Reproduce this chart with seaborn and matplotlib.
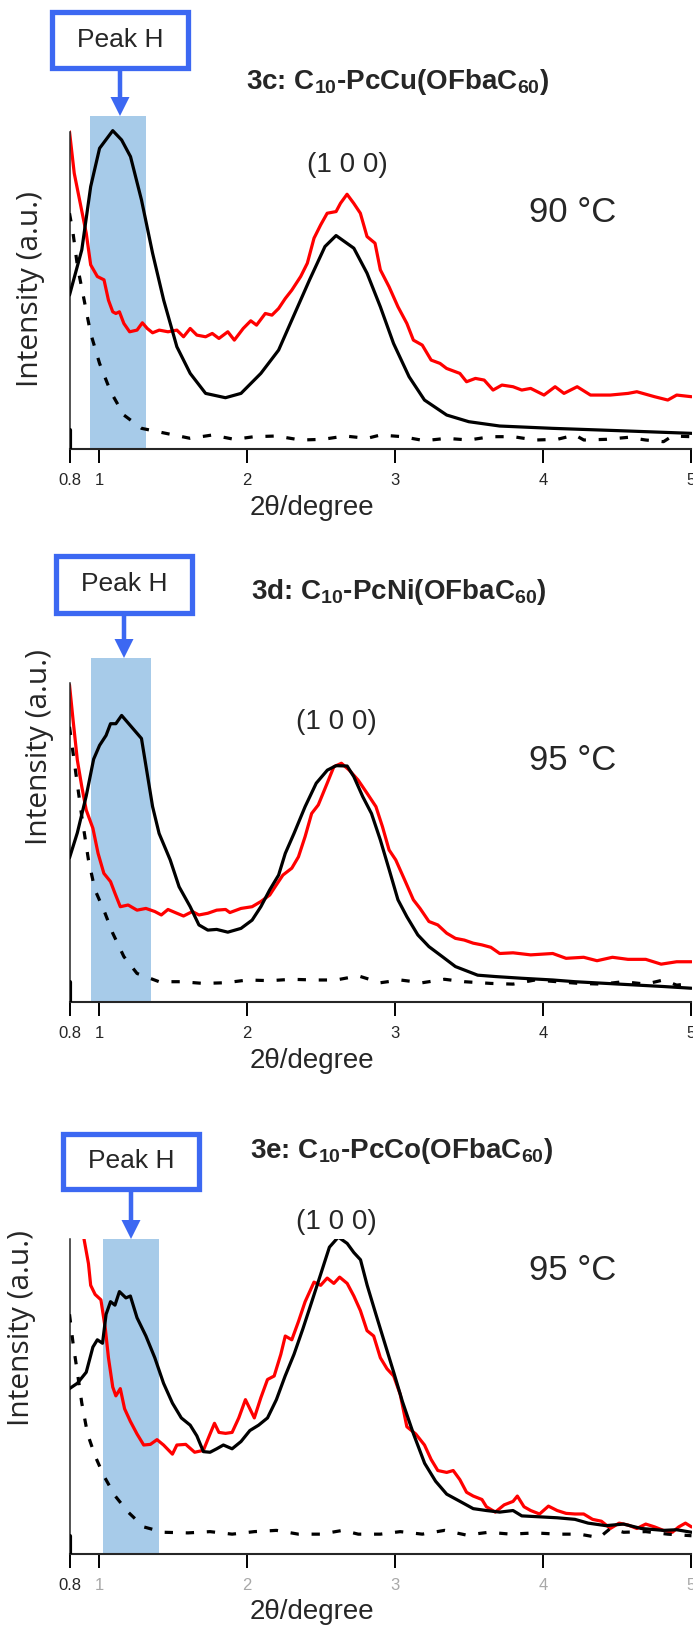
import matplotlib
matplotlib.use("Agg")
import matplotlib.pyplot as plt
from matplotlib.patches import Rectangle, FancyArrow
import seaborn as sns

# ---------------- data: 2θ (degree) vs. intensity (a.u.) ----------------
# 3c: C10-PcCu(OFbaC60), 90 °C
x_3c_red = [0.80, 0.832, 0.868, 0.913, 0.943, 0.988, 1.033, 1.063, 1.092, 1.113, 1.137, 1.167,
            1.206, 1.256, 1.292, 1.325, 1.361, 1.406, 1.465, 1.525, 1.570, 1.615, 1.660, 1.719,
            1.764, 1.809, 1.869, 1.913, 1.973, 2.024, 2.063, 2.122, 2.167, 2.212, 2.257, 2.301,
            2.361, 2.406, 2.451, 2.496, 2.540, 2.600, 2.630, 2.674, 2.719, 2.764, 2.809, 2.863,
            2.899, 2.958, 3.018, 3.078, 3.122, 3.182, 3.242, 3.302, 3.346, 3.436, 3.481, 3.541,
            3.600, 3.660, 3.720, 3.795, 3.854, 3.914, 4.004, 4.079, 4.139, 4.228, 4.318, 4.452,
            4.572, 4.631, 4.751, 4.840, 4.900, 5.0]
i_3c_red = [95.3, 82.8, 74.8, 64.8, 55.3, 51.8, 50.8, 44.7, 41.2, 40.7, 41.2, 37.7,
            35.2, 35.7, 37.9, 36.2, 34.9, 35.7, 35.2, 35.7, 33.7, 36.2, 34.2, 33.7,
            34.7, 33.2, 35.2, 32.7, 36.2, 38.5, 37.2, 40.7, 40.2, 42.2, 45.2, 47.7,
            51.8, 55.8, 63.3, 67.3, 70.8, 71.3, 73.8, 76.5, 73.8, 70.8, 63.8, 61.8,
            53.8, 48.7, 42.7, 37.7, 32.7, 31.2, 26.7, 25.7, 24.2, 22.7, 20.2, 21.2,
            20.7, 17.7, 19.2, 18.7, 17.7, 18.2, 16.2, 18.7, 16.7, 18.7, 16.2, 16.2,
            16.7, 17.2, 15.7, 14.7, 16.2, 15.7]
x_3c_black = [0.80, 0.883, 0.943, 1.003, 1.092, 1.152, 1.212, 1.286, 1.361, 1.436, 1.525, 1.615,
              1.719, 1.853, 1.958, 2.092, 2.212, 2.301, 2.421, 2.525, 2.600, 2.720, 2.809, 2.899,
              2.988, 3.093, 3.197, 3.347, 3.496, 3.705, 4.063, 4.511, 5.0]
i_3c_black = [46.2, 59.8, 78.8, 90.3, 95.6, 92.8, 87.8, 74.8, 58.8, 44.7, 30.7, 22.7,
              16.7, 15.4, 16.7, 22.7, 29.7, 38.7, 50.8, 60.8, 64.1, 60.3, 52.8, 42.7,
              31.7, 21.7, 14.7, 10.2, 8.2, 6.9, 6.2, 5.5, 4.7]
x_3c_dash = [0.80, 0.824, 0.854, 0.899, 0.943, 1.003, 1.078, 1.167, 1.287, 1.451, 1.615, 1.764,
             1.913, 2.047, 2.196, 2.361, 2.510, 2.660, 2.809, 2.899, 3.048, 3.197, 3.346, 3.496,
             3.645, 3.795, 3.944, 4.093, 4.213, 4.273, 4.422, 4.572, 4.691, 4.811, 4.870, 5.0]
i_3c_dash = [70.8, 64.8, 54.8, 44.7, 34.7, 25.7, 17.2, 10.2, 6.2, 4.7, 3.2, 4.2,
             2.9, 3.7, 3.9, 2.7, 2.9, 3.9, 3.2, 4.2, 3.7, 2.5, 3.2, 2.7,
             3.7, 3.7, 2.7, 2.9, 4.2, 2.7, 2.9, 3.5, 2.7, 2.2, 3.9, 3.7]

# 3d: C10-PcNi(OFbaC60), 95 °C
x_3d_red = [0.80, 0.824, 0.853, 0.883, 0.913, 0.958, 0.993, 1.032, 1.077, 1.107, 1.143, 1.196,
            1.256, 1.316, 1.376, 1.420, 1.465, 1.525, 1.570, 1.630, 1.674, 1.734, 1.794, 1.854,
            1.883, 1.958, 2.033, 2.092, 2.152, 2.196, 2.241, 2.301, 2.346, 2.391, 2.435, 2.480,
            2.540, 2.585, 2.636, 2.689, 2.749, 2.809, 2.869, 2.913, 2.958, 3.003, 3.063, 3.122,
            3.167, 3.227, 3.287, 3.347, 3.406, 3.466, 3.526, 3.585, 3.645, 3.705, 3.795, 3.914,
            4.063, 4.153, 4.272, 4.362, 4.466, 4.571, 4.691, 4.795, 4.900, 5.0]
i_3d_red = [92.2, 82.0, 70.3, 62.6, 55.8, 50.5, 43.2, 37.4, 35.0, 31.6, 27.7, 28.2,
            26.7, 27.2, 26.3, 25.3, 26.9, 25.8, 25.0, 26.3, 25.3, 25.8, 26.7, 26.9,
            26.0, 27.2, 27.7, 29.2, 31.1, 34.0, 36.9, 38.9, 42.2, 48.1, 54.8, 57.3,
            63.6, 68.4, 69.4, 67.4, 64.5, 60.7, 56.8, 51.0, 44.2, 41.3, 35.5, 29.7,
            27.2, 23.4, 22.4, 20.0, 18.5, 18.0, 17.1, 16.6, 15.9, 14.1, 14.3, 13.7,
            14.1, 12.7, 13.0, 12.0, 13.0, 12.4, 12.4, 11.0, 11.7, 11.7]
x_3d_black = [0.80, 0.853, 0.913, 0.963, 1.003, 1.047, 1.077, 1.113, 1.152, 1.286, 1.361, 1.405,
              1.480, 1.540, 1.615, 1.674, 1.734, 1.794, 1.869, 1.958, 2.033, 2.092, 2.152, 2.212,
              2.257, 2.316, 2.391, 2.466, 2.541, 2.600, 2.675, 2.720, 2.780, 2.839, 2.899, 2.959,
              3.018, 3.078, 3.152, 3.227, 3.317, 3.406, 3.496, 3.556, 3.675, 3.854, 4.063, 4.213,
              4.511, 4.810, 5.0]
i_3d_black = [41.9, 49.2, 59.9, 70.6, 74.6, 77.5, 80.9, 80.9, 83.3, 76.6, 56.8, 49.0,
              41.3, 33.5, 27.7, 22.4, 20.9, 21.1, 20.3, 21.4, 23.8, 27.7, 32.6, 36.9,
              43.2, 49.0, 56.8, 63.6, 67.4, 68.7, 68.6, 65.5, 59.7, 54.8, 47.1, 38.4,
              29.7, 24.8, 19.5, 16.1, 13.2, 10.3, 8.8, 7.8, 7.4, 6.9, 6.4, 5.9,
              5.2, 4.5, 4.0]
x_3d_dash = [0.80, 0.840, 0.883, 0.928, 0.972, 1.032, 1.092, 1.167, 1.256, 1.405, 1.555, 1.704,
             1.853, 2.003, 2.152, 2.301, 2.451, 2.600, 2.750, 2.899, 3.033, 3.182, 3.332, 3.466,
             3.645, 3.795, 3.944, 4.093, 4.243, 4.392, 4.541, 4.691, 4.810, 4.900, 5.0]
i_3d_dash = [80.0, 67.4, 53.9, 41.3, 32.6, 26.7, 20.0, 13.2, 8.3, 5.9, 5.9, 5.4,
             5.6, 6.4, 6.2, 6.6, 6.4, 6.4, 7.6, 5.6, 6.4, 5.6, 6.6, 5.9,
             5.4, 5.2, 6.4, 5.9, 5.4, 5.2, 5.9, 5.2, 6.4, 4.9, 5.4]

# 3e: C10-PcCo(OFbaC60), 95 °C
x_3e_red = [0.868, 0.898, 0.928, 0.943, 0.973, 1.012, 1.042, 1.063, 1.092, 1.113, 1.143, 1.172,
            1.211, 1.256, 1.301, 1.346, 1.391, 1.435, 1.495, 1.525, 1.585, 1.645, 1.704, 1.749,
            1.779, 1.809, 1.854, 1.898, 1.943, 1.988, 2.018, 2.048, 2.092, 2.137, 2.182, 2.227,
            2.257, 2.301, 2.346, 2.391, 2.451, 2.496, 2.540, 2.585, 2.624, 2.675, 2.720, 2.764,
            2.809, 2.854, 2.899, 2.944, 2.989, 3.033, 3.078, 3.138, 3.197, 3.242, 3.287, 3.347,
            3.391, 3.436, 3.481, 3.526, 3.585, 3.615, 3.675, 3.735, 3.795, 3.824, 3.869, 3.914,
            3.974, 4.034, 4.093, 4.153, 4.213, 4.272, 4.332, 4.392, 4.452, 4.511, 4.571, 4.631,
            4.691, 4.751, 4.810, 4.870, 4.914, 4.959, 5.0]
i_3e_red = [110.7, 100.0, 92.2, 85.3, 82.4, 80.7, 71.5, 62.3, 53.0, 50.2, 52.5, 46.1,
            42.1, 38.1, 34.6, 34.8, 36.3, 34.6, 31.7, 34.6, 34.8, 32.3, 32.9, 38.1,
            41.5, 38.6, 38.3, 38.6, 43.2, 49.0, 46.1, 43.2, 49.6, 55.4, 56.5, 63.4,
            69.2, 68.0, 73.8, 80.1, 86.3, 85.3, 87.6, 85.9, 87.9, 85.9, 81.9, 77.3,
            70.9, 69.2, 62.3, 58.8, 56.5, 50.7, 40.4, 38.1, 34.6, 30.0, 26.5, 25.9,
            26.5, 23.6, 19.6, 18.4, 17.3, 15.0, 13.3, 15.6, 16.7, 18.4, 15.0, 13.8,
            12.7, 15.2, 13.8, 12.9, 12.7, 12.7, 11.0, 10.4, 8.1, 9.8, 9.2, 8.1,
            9.5, 8.6, 7.5, 6.9, 8.6, 9.8, 8.6]
x_3e_black = [0.80, 0.853, 0.913, 0.958, 0.988, 1.023, 1.047, 1.077, 1.107, 1.137, 1.181, 1.211,
              1.256, 1.316, 1.376, 1.435, 1.495, 1.555, 1.615, 1.660, 1.704, 1.749, 1.794, 1.839,
              1.898, 1.958, 2.018, 2.077, 2.137, 2.197, 2.256, 2.316, 2.376, 2.436, 2.496, 2.555,
              2.615, 2.675, 2.720, 2.765, 2.810, 2.869, 2.929, 2.989, 3.048, 3.123, 3.198, 3.272,
              3.347, 3.437, 3.526, 3.615, 3.705, 3.795, 3.854, 3.974, 4.093, 4.213, 4.302, 4.422,
              4.541, 4.661, 4.810, 4.900, 5.0]
i_3e_black = [52.5, 54.2, 57.7, 65.7, 68.0, 66.9, 76.1, 80.1, 79.0, 83.3, 81.3, 81.9,
              75.0, 69.2, 62.3, 54.2, 47.9, 43.2, 40.9, 37.5, 32.5, 32.3, 33.4, 34.6,
              33.4, 35.7, 39.2, 40.9, 43.2, 49.0, 56.5, 63.4, 71.5, 80.1, 88.8, 97.4,
              100.6, 98.6, 95.7, 93.4, 85.3, 76.1, 66.9, 57.7, 48.4, 38.1, 28.8, 23.1,
              19.0, 16.7, 14.4, 13.8, 13.3, 13.8, 12.1, 11.8, 11.5, 11.0, 9.8, 9.0,
              9.5, 8.1, 7.5, 7.7, 6.9]
x_3e_dash = [0.80, 0.824, 0.853, 0.883, 0.922, 0.973, 1.032, 1.107, 1.196, 1.301, 1.435, 1.600,
             1.749, 1.898, 2.048, 2.197, 2.346, 2.496, 2.645, 2.750, 2.899, 3.033, 3.182, 3.332,
             3.481, 3.630, 3.780, 3.944, 4.093, 4.243, 4.377, 4.452, 4.541, 4.691, 4.840, 5.0]
i_3e_dash = [76.1, 66.9, 57.7, 47.9, 38.1, 31.1, 24.8, 18.5, 13.3, 8.6, 6.9, 6.7,
             7.1, 6.3, 7.1, 7.5, 6.3, 6.3, 7.5, 6.3, 6.3, 7.1, 6.3, 7.5,
             6.0, 6.9, 6.3, 6.7, 6.3, 6.3, 5.2, 8.1, 6.9, 7.1, 6.3, 5.8]

# "Peak H" window (2θ range) for each sample
band_3c = (0.94, 1.317)
band_3d = (0.946, 1.348)
band_3e = (1.026, 1.405)

tick_values = [0.8, 1, 2, 3, 4, 5]
tick_labels = ["0.8", "1", "2", "3", "4", "5"]

sample_titles = [r"3c: C$_{10}$-PcCu(OFbaC$_{60}$)",
                 r"3d: C$_{10}$-PcNi(OFbaC$_{60}$)",
                 r"3e: C$_{10}$-PcCo(OFbaC$_{60}$)"]
temperatures = ["90 °C", "95 °C", "95 °C"]

# ---------------- style ----------------
sns.set_style("ticks")
plt.rcParams["font.family"] = ["Liberation Sans", "DejaVu Sans"]
plt.rcParams["mathtext.default"] = "regular"

RED = "#ff0000"
BAND = "#a7cbe9"
BLUE = "#3c68f2"
LW = 2.3

W, H = 693, 1630
fig = plt.figure(figsize=(W / 100, H / 100), dpi=100)

# pixel layout of the three panels: (axes top, axes bottom, left-spine top in data units)
layout = [
    dict(top=116, bottom=449, spine_top=95.2, box_x=120, box_top=9.5, box_bot=70.7,
         title_xy=(398, 82), hkl_xy=(347, 165), temp_xy=(573, 213), ylab_xy=(31, 289),
         xlab_y=508, gray_ticks=False),
    dict(top=658, bottom=1002, spine_top=92.7, box_x=124, box_top=553, box_bot=615,
         title_xy=(399, 592), hkl_xy=(336, 722), temp_xy=(573, 760), ylab_xy=(40, 747),
         xlab_y=1061, gray_ticks=False),
    dict(top=1239, bottom=1554, spine_top=100.0, box_x=131, box_top=1131, box_bot=1191.5,
         title_xy=(402, 1151), hkl_xy=(336, 1222), temp_xy=(573, 1271), ylab_xy=(22, 1328),
         xlab_y=1612, gray_ticks=True),
]

series = [
    (x_3c_red, i_3c_red, x_3c_black, i_3c_black, x_3c_dash, i_3c_dash, band_3c),
    (x_3d_red, i_3d_red, x_3d_black, i_3d_black, x_3d_dash, i_3d_dash, band_3d),
    (x_3e_red, i_3e_red, x_3e_black, i_3e_black, x_3e_dash, i_3e_dash, band_3e),
]

LEFT, RIGHT = 69.5, 691.5
axes = []
for lay, (xr, yr, xk, yk, xd, yd, band) in zip(layout, series):
    ax = fig.add_axes([LEFT / W, 1 - lay["bottom"] / H, (RIGHT - LEFT) / W,
                       (lay["bottom"] - lay["top"]) / H])
    axes.append(ax)
    ax.axvspan(band[0], band[1], color=BAND, lw=0, zorder=0)
    sns.lineplot(x=xr, y=yr, ax=ax, color=RED, linewidth=LW, zorder=2)
    sns.lineplot(x=xk, y=yk, ax=ax, color="black", linewidth=LW, zorder=3)
    sns.lineplot(x=xd, y=yd, ax=ax, color="black", linewidth=LW, zorder=3,
                 linestyle=(0, (2.6, 4.0)))
    ax.set_xlim(0.8, 5)
    ax.set_ylim(0, 100)
    ax.set_xlabel("")
    ax.set_ylabel("")
    ax.set_yticks([])
    ax.set_xticks(tick_values)
    ax.set_xticklabels(tick_labels)
    ax.tick_params(axis="x", length=10, width=1.4, pad=7, labelsize=12, color="black")
    if lay["gray_ticks"]:
        for lbl in ax.get_xticklabels()[1:]:
            lbl.set_color("#a8a8a8")
    for s in ("top", "right"):
        ax.spines[s].set_visible(False)
    ax.spines["left"].set_bounds(0, lay["spine_top"])
    ax.spines["left"].set_linewidth(1.1)
    ax.spines["bottom"].set_linewidth(1.5)
    ax.axvline(0.8, ymin=0, ymax=0.057, color="black", lw=3, zorder=4)
    ax.set_facecolor("none")

# ---------------- annotations in pixel coordinates ----------------
ov = fig.add_axes([0, 0, 1, 1], zorder=10)
ov.set_xlim(0, W)
ov.set_ylim(H, 0)
ov.axis("off")
ov.patch.set_alpha(0)

BOX_W = 136.5
for lay, title, temp in zip(layout, sample_titles, temperatures):
    bx = lay["box_x"]
    t0, t1 = lay["box_top"] + 2.5, lay["box_bot"] - 2.5
    ov.add_patch(Rectangle((bx - BOX_W / 2, t0), BOX_W, t1 - t0, facecolor="white",
                           edgecolor=BLUE, linewidth=3.8))
    ov.text(bx, (t0 + t1) / 2, "Peak H", ha="center", va="center", fontsize=19)
    ov.add_patch(FancyArrow(bx, lay["box_bot"], 0, lay["top"] - lay["box_bot"], width=4.5,
                            head_width=19, head_length=19, length_includes_head=True,
                            color=BLUE, lw=0))
    ov.text(*lay["title_xy"], title, ha="center", va="center", fontsize=20,
            fontweight="bold")
    ov.text(*lay["hkl_xy"], "(1 0 0)", ha="center", va="center", fontsize=20)
    ov.text(*lay["temp_xy"], temp, ha="center", va="center", fontsize=25)
    ov.text(*lay["ylab_xy"], "Intensity (a.u.)", ha="center", va="center", fontsize=21.5,
            rotation=90, family=["Open Sans", "DejaVu Sans"])
    ov.text(312, lay["xlab_y"], "2θ/degree", ha="center", va="center", fontsize=20)

fig.savefig("out.png", dpi=100)
